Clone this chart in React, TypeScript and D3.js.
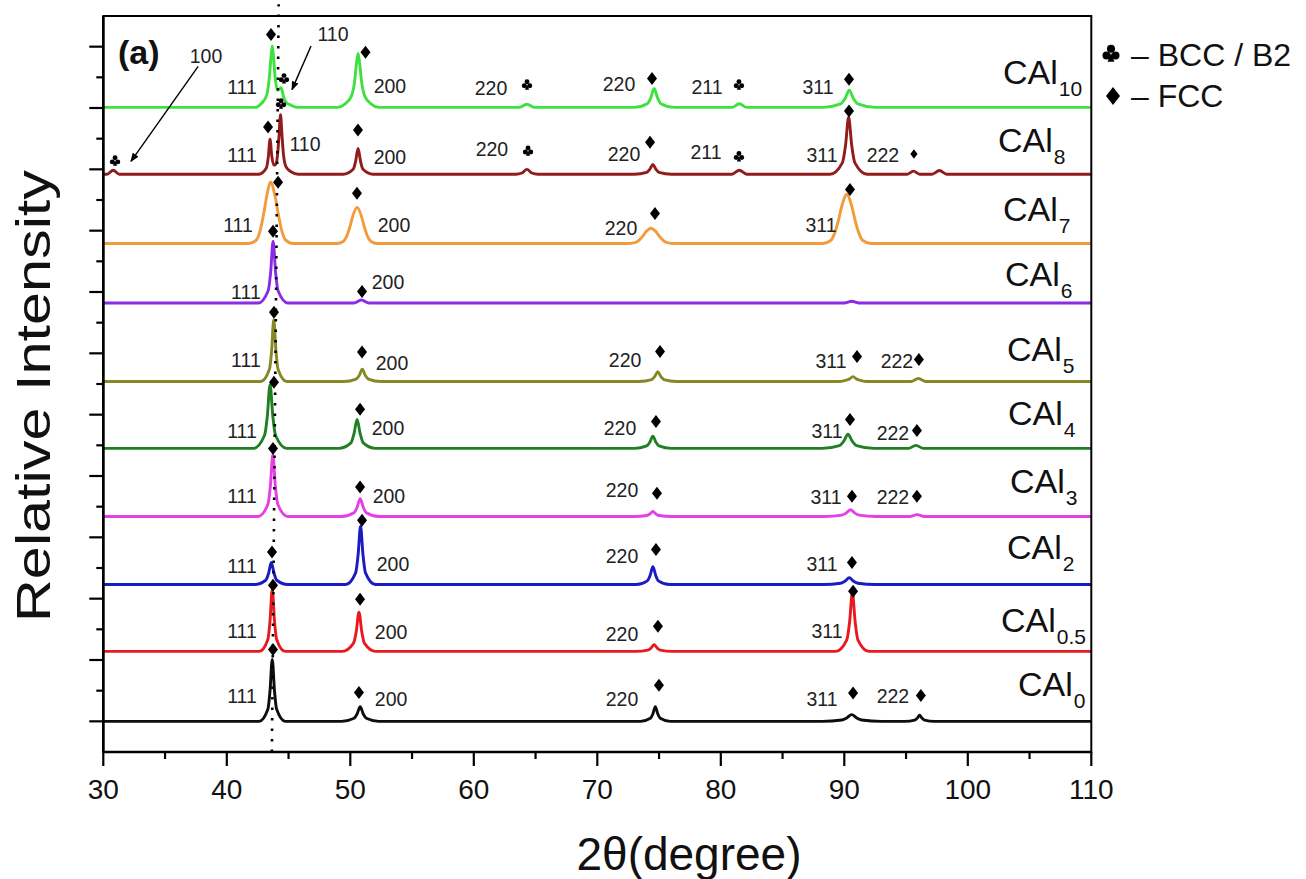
import React from "react";
import * as d3 from "d3";

// ---------- data ----------
const sampleSubs = ["0", "0.5", "2", "3", "4", "5", "6", "7", "8", "10"];
const sampleColors = ["#0d0d0d", "#e8191f", "#1b1bc4", "#e53fe5", "#1f7f22", "#878726", "#8b2be6", "#f29b3b", "#921b1b", "#3ee23e"];
const sampleOffsets = [0, 1.14, 2.23, 3.34, 4.45, 5.54, 6.82, 7.79, 8.92, 10.01];
// label anchor (2θ, intensity) for each sample name
const sampleLabelX = [104.07, 102.69, 103.17, 103.42, 103.25, 103.17, 103.01, 102.85, 102.44, 102.85];
const sampleLabelY = [0.41, 1.45, 2.64, 3.73, 4.83, 5.87, 7.09, 8.15, 9.28, 10.39];

type P = [number, number];
const patCAl0: P[] = [
  [30, 0],
  [42.63, 0], [43.33, 0.2], [43.5, 0.5], [43.68, 1.01], [43.86, 0.5], [44.03, 0.2], [44.73, 0],
  [49.3, 0], [50.3, 0.05], [50.55, 0.12], [50.8, 0.24], [51.05, 0.12], [51.3, 0.05], [52.3, 0],
  [73.5, 0], [74.3, 0.05], [74.5, 0.12], [74.7, 0.24], [74.9, 0.12], [75.1, 0.05], [75.9, 0],
  [88.2, 0], [89.8, 0.022], [90.2, 0.055], [90.6, 0.11], [91.0, 0.055], [91.4, 0.022], [93.0, 0],
  [94.9, 0], [95.7, 0.02], [95.9, 0.05], [96.1, 0.1], [96.3, 0.05], [96.5, 0.02], [97.3, 0],
  [110, 0],
];
const patCAl05: P[] = [
  [30, 0],
  [42.63, 0], [43.33, 0.2], [43.5, 0.5], [43.68, 1.01], [43.86, 0.5], [44.03, 0.2], [44.73, 0],
  [49.35, 0], [50.25, 0.13], [50.48, 0.32], [50.7, 0.64], [50.93, 0.32], [51.15, 0.13], [52.05, 0],
  [73.1, 0], [74.1, 0.022], [74.35, 0.055], [74.6, 0.11], [74.85, 0.055], [75.1, 0.022], [76.1, 0],
  [89.3, 0], [90.2, 0.19], [90.43, 0.48], [90.65, 0.96], [90.88, 0.48], [91.1, 0.19], [92.0, 0],
  [110, 0],
];
const patCAl2: P[] = [
  [30, 0],
  [42.25, 0], [43.15, 0.07], [43.38, 0.18], [43.6, 0.36], [43.83, 0.18], [44.05, 0.07], [44.95, 0],
  [49.63, 0], [50.43, 0.19], [50.63, 0.48], [50.83, 0.95], [51.03, 0.48], [51.23, 0.19], [52.03, 0],
  [73.15, 0], [74.05, 0.06], [74.28, 0.15], [74.5, 0.29], [74.73, 0.15], [74.95, 0.06], [75.85, 0],
  [88.3, 0], [89.7, 0.022], [90.05, 0.055], [90.4, 0.11], [90.75, 0.055], [91.1, 0.022], [92.5, 0],
  [110, 0],
];
const patCAl3: P[] = [
  [30, 0],
  [42.53, 0], [43.33, 0.2], [43.53, 0.5], [43.73, 1.01], [43.93, 0.5], [44.13, 0.2], [44.93, 0],
  [49.3, 0], [50.3, 0.06], [50.55, 0.15], [50.8, 0.29], [51.05, 0.15], [51.3, 0.06], [52.3, 0],
  [73.0, 0], [74.0, 0.016], [74.25, 0.04], [74.5, 0.08], [74.75, 0.04], [75.0, 0.016], [76.0, 0],
  [88.4, 0], [89.8, 0.022], [90.15, 0.055], [90.5, 0.11], [90.85, 0.055], [91.2, 0.022], [92.6, 0],
  [95.3, 0], [95.9, 0.03], [96.5, 0],
  [110, 0],
];
const patCAl4: P[] = [
  [30, 0],
  [42.15, 0], [43.05, 0.21], [43.28, 0.52], [43.5, 1.04], [43.73, 0.52], [43.95, 0.21], [44.85, 0],
  [49.05, 0], [50.05, 0.09], [50.3, 0.24], [50.55, 0.47], [50.8, 0.24], [51.05, 0.09], [52.05, 0],
  [73.0, 0], [74.0, 0.04], [74.25, 0.1], [74.5, 0.2], [74.75, 0.1], [75.0, 0.04], [76.0, 0],
  [88.2, 0], [89.6, 0.046], [89.95, 0.115], [90.3, 0.23], [90.65, 0.115], [91.0, 0.046], [92.4, 0],
  [95.2, 0], [95.8, 0.05], [96.4, 0],
  [110, 0],
];
const patCAl5: P[] = [
  [30, 0],
  [42.75, 0], [43.45, 0.2], [43.63, 0.5], [43.8, 1.01], [43.98, 0.5], [44.15, 0.2], [44.85, 0],
  [49.47, 0], [50.47, 0.04], [50.72, 0.1], [50.97, 0.2], [51.22, 0.1], [51.47, 0.04], [52.47, 0],
  [73.4, 0], [74.4, 0.03], [74.65, 0.08], [74.9, 0.16], [75.15, 0.08], [75.4, 0.03], [76.4, 0],
  [89.5, 0], [90.1, 0.02], [90.4, 0.04], [90.7, 0.08], [91.0, 0.04], [91.3, 0.02], [91.9, 0],
  [95.4, 0], [96.0, 0.05], [96.6, 0],
  [110, 0],
];
const patCAl6: P[] = [
  [30, 0],
  [42.55, 0], [43.35, 0.2], [43.55, 0.5], [43.75, 1.01], [43.95, 0.5], [44.15, 0.2], [44.95, 0],
  [50.3, 0], [50.9, 0.05], [51.5, 0],
  [90.0, 0], [90.6, 0.03], [91.2, 0],
  [110, 0],
];
const patCAl7: P[] = [
  [30, 0],
  [41.8, 0], [42.4, 0.06], [42.7, 0.21], [43.0, 0.5], [43.24, 0.78], [43.55, 1.0], [43.9, 0.78], [44.15, 0.5], [44.45, 0.21], [44.75, 0.06], [45.35, 0],
  [48.9, 0], [49.45, 0.037], [49.72, 0.124], [50.0, 0.295], [50.22, 0.46], [50.55, 0.59], [50.88, 0.46], [51.1, 0.295], [51.38, 0.124], [51.65, 0.037], [52.2, 0],
  [72.4, 0], [73.05, 0.016], [73.37, 0.053], [73.7, 0.125], [73.96, 0.195], [74.35, 0.25], [74.74, 0.195], [75.0, 0.125], [75.33, 0.053], [75.65, 0.016], [76.3, 0],
  [88.25, 0], [88.9, 0.05], [89.22, 0.17], [89.55, 0.4], [89.81, 0.62], [90.2, 0.8], [90.59, 0.62], [90.85, 0.4], [91.18, 0.17], [91.5, 0.05], [92.15, 0],
  [110, 0],
];
const patCAl8: P[] = [
  [30, 0], [30.3, 0], [30.8, 0.065], [31.3, 0],
  [42.6, 0], [43.2, 0.1], [43.36, 0.28], [43.5, 0.57], [43.64, 0.3], [43.8, 0.15], [43.95, 0.16], [44.1, 0.3], [44.22, 0.6], [44.35, 0.97], [44.48, 0.6], [44.6, 0.3], [44.8, 0.12], [45.2, 0.04], [45.8, 0],
  [49.43, 0], [50.23, 0.08], [50.43, 0.21], [50.63, 0.42], [50.83, 0.21], [51.03, 0.08], [51.83, 0],
  [63.4, 0], [63.9, 0.02], [64.3, 0.08], [64.7, 0.02], [65.2, 0],
  [73.0, 0], [74.0, 0.03], [74.25, 0.08], [74.5, 0.16], [74.75, 0.08], [75.0, 0.03], [76.0, 0],
  [80.9, 0], [81.5, 0.065], [82.1, 0],
  [88.85, 0], [89.85, 0.19], [90.1, 0.47], [90.35, 0.93], [90.6, 0.47], [90.85, 0.19], [91.85, 0],
  [95.1, 0], [95.6, 0.05], [96.1, 0],
  [97.1, 0], [97.7, 0.06], [98.3, 0],
  [110, 0],
];
const patCAl10: P[] = [
  [30, 0],
  [42.3, 0], [42.78, 0.06], [43.23, 0.2], [43.45, 0.5], [43.57, 0.8], [43.68, 1.0], [43.79, 0.8], [43.9, 0.52], [44.13, 0.28], [44.4, 0.32], [44.6, 0.17], [44.8, 0.085], [45.2, 0.035], [45.7, 0],
  [48.98, 0], [49.53, 0.05], [50.08, 0.18], [50.36, 0.44], [50.49, 0.7], [50.63, 0.88], [50.77, 0.7], [50.9, 0.44], [51.18, 0.18], [51.73, 0.05], [52.28, 0],
  [63.7, 0], [64.3, 0.05], [64.9, 0],
  [72.95, 0], [74.05, 0.06], [74.33, 0.155], [74.6, 0.31], [74.88, 0.155], [75.15, 0.06], [76.25, 0],
  [80.9, 0], [81.5, 0.06], [82.1, 0],
  [88.3, 0], [89.7, 0.056], [90.05, 0.14], [90.4, 0.28], [90.75, 0.14], [91.1, 0.056], [92.5, 0],
  [110, 0],
];
const patterns = [patCAl0, patCAl05, patCAl2, patCAl3, patCAl4, patCAl5, patCAl6, patCAl7, patCAl8, patCAl10];

// peak index labels (2θ, intensity, text)
const peakTexts: [number, number, string][] = [
  // CAl10
  [41.23, 10.34, "111"], [53.21, 10.36, "200"], [61.39, 10.32, "220"], [71.76, 10.39, "220"], [78.88, 10.35, "211"], [87.87, 10.35, "311"],
  [48.6, 11.2, "110"], [38.32, 10.84, "100"],
  // CAl8
  [41.23, 9.23, "111"], [46.33, 9.41, "110"], [53.21, 9.2, "200"], [61.47, 9.33, "220"], [72.16, 9.25, "220"], [78.8, 9.29, "211"], [88.19, 9.23, "311"], [93.13, 9.23, "222"],
  // CAl7
  [40.91, 8.09, "111"], [53.54, 8.1, "200"], [71.92, 8.05, "220"], [88.11, 8.1, "311"],
  // CAl6
  [41.55, 7.0, "111"], [53.05, 7.16, "200"],
  // CAl5
  [41.55, 5.89, "111"], [53.38, 5.84, "200"], [72.25, 5.89, "220"], [88.92, 5.87, "311"], [94.26, 5.87, "222"],
  // CAl4
  [41.23, 4.74, "111"], [53.05, 4.79, "200"], [71.84, 4.78, "220"], [88.6, 4.73, "311"], [93.94, 4.7, "222"],
  // CAl3
  [41.23, 3.67, "111"], [53.13, 3.67, "200"], [72.0, 3.77, "220"], [88.52, 3.65, "311"], [93.94, 3.65, "222"],
  // CAl2
  [41.23, 2.53, "111"], [53.46, 2.56, "200"], [72.0, 2.69, "220"], [88.19, 2.56, "311"],
  // CAl0.5
  [41.23, 1.48, "111"], [53.3, 1.45, "200"], [72.0, 1.43, "220"], [88.6, 1.48, "311"],
  // CAl0
  [41.23, 0.42, "111"], [53.3, 0.36, "200"], [72.0, 0.36, "220"], [88.19, 0.36, "311"], [93.94, 0.41, "222"],
];

// FCC markers (2θ, intensity)
const fccMarks: P[] = [
  [43.58, 11.2], [51.23, 10.91], [74.43, 10.48], [90.38, 10.47],
  [43.34, 9.69], [50.62, 9.64], [74.27, 9.44], [90.38, 9.95],
  [44.15, 8.79], [50.54, 8.61], [74.67, 8.28], [90.46, 8.67],
  [43.74, 7.99], [50.95, 7.01],
  [43.82, 6.67], [50.95, 6.02], [75.08, 6.03], [91.03, 5.95], [96.04, 5.9],
  [43.82, 5.53], [50.79, 5.09], [74.75, 4.89], [90.46, 4.92], [95.88, 4.74],
  [43.74, 4.45], [50.79, 3.82], [74.83, 3.72], [90.62, 3.67], [95.88, 3.67],
  [43.66, 2.76], [50.95, 3.28], [74.75, 2.8], [90.62, 2.59],
  [43.74, 2.22], [50.79, 1.99], [74.91, 1.55], [90.71, 2.12],
  [43.74, 1.17], [50.7, 0.47], [74.99, 0.59], [90.71, 0.46], [96.2, 0.42],
];
const fccSmallMarks: P[] = [[95.64, 9.25]];
// BCC / B2 markers
const bccMarks: P[] = [
  [44.63, 10.47], [64.31, 10.37], [81.47, 10.37],
  [44.39, 10.06], [30.95, 9.13], [64.39, 9.29], [81.47, 9.2],
];
// arrows: from (2θ, I) to (2θ, I)
const arrows: [number, number, number, number][] = [
  [46.82, 11.01, 45.28, 10.3],
  [37.68, 10.68, 32.24, 9.13],
];
// dotted guide line (2θ at bottom, 2θ at top)
const guideX = [43.65, 44.2];
const guideY = [-0.5, 11.69];

const xTickValues = [30, 40, 50, 60, 70, 80, 90, 100, 110];
const xMinorValues = [35, 45, 55, 65, 75, 85, 95, 105];
const yMajorValues = [0, 1, 2, 3, 4, 5, 6, 7, 8, 9, 10, 11];
const yMinorValues = [0.5, 1.5, 2.5, 3.5, 4.5, 5.5, 6.5, 7.5, 8.5, 9.5, 10.5];

// ---------- chart ----------
const FONT = "'Liberation Sans', Arial, sans-serif";

function Diamond({ cx, cy, w, h }: { cx: number; cy: number; w: number; h: number }) {
  return <path d={`M${cx},${cy - h}L${cx + w},${cy}L${cx},${cy + h}L${cx - w},${cy}Z`} fill="#000" />;
}
function Club({ cx, cy, s }: { cx: number; cy: number; s: number }) {
  const r = 2.6 * s;
  return (
    <g fill="#000">
      <circle cx={cx} cy={cy - 2.7 * s} r={r} />
      <circle cx={cx - 2.9 * s} cy={cy + 1.6 * s} r={r} />
      <circle cx={cx + 2.9 * s} cy={cy + 1.6 * s} r={r} />
      <path d={`M${cx},${cy}L${cx - 2.2 * s},${cy + 5.6 * s}L${cx + 2.2 * s},${cy + 5.6 * s}Z`} />
    </g>
  );
}

export default function App() {
  const W = 1306, H = 879;
  const x = d3.scaleLinear().domain([30, 110]).range([103.3, 1091.3]);
  const y = d3.scaleLinear().domain([-0.5, 11.5]).range([752, 16]);
  const [x0, x1] = x.range();
  const [yb, yt] = y.range();

  return (
    <svg width={W} height={H} style={{ position: "absolute", left: 0, top: 0, background: "#fff" }} fontFamily={FONT}>
      <defs>
        <clipPath id="plot">
          <rect x={x0} y={yt} width={x1 - x0} height={yb - yt} />
        </clipPath>
        <marker id="ah" viewBox="0 0 10 10" refX="9" refY="5" markerWidth="9" markerHeight="9" orient="auto" markerUnits="userSpaceOnUse">
          <path d="M0,1L10,5L0,9Z" fill="#000" />
        </marker>
      </defs>
      <rect x={0} y={0} width={W} height={H} fill="#fff" />

      {/* traces */}
      <g clipPath="url(#plot)">
        {patterns.map((pat, i) => {
          const off = sampleOffsets[i];
          const line = d3
            .line<P>()
            .x((d) => x(d[0]))
            .y((d) => y(d[1] + off))
            .curve(d3.curveMonotoneX);
          return <path key={i} d={line(pat) || ""} fill="none" stroke={sampleColors[i]} strokeWidth={2.9} strokeLinejoin="round" />;
        })}
      </g>

      {/* dotted guide */}
      <line
        x1={x(guideX[0])} y1={y(guideY[0])} x2={x(guideX[1])} y2={y(guideY[1])}
        stroke="#000" strokeWidth={2.6} strokeDasharray="2.5 8" />

      {/* frame */}
      <rect x={x0} y={yt} width={x1 - x0} height={yb - yt} fill="none" stroke="#000" strokeWidth={2} />
      <line x1={x0} y1={yt} x2={x0} y2={yb} stroke="#000" strokeWidth={2.6} />
      <line x1={x0} y1={yb} x2={x1} y2={yb} stroke="#000" strokeWidth={2.6} />

      {/* y ticks */}
      {yMajorValues.map((v) => (
        <line key={"ym" + v} x1={x0 - 14} x2={x0} y1={y(v)} y2={y(v)} stroke="#000" strokeWidth={2.2} />
      ))}
      {yMinorValues.map((v) => (
        <line key={"yn" + v} x1={x0 - 7} x2={x0} y1={y(v)} y2={y(v)} stroke="#000" strokeWidth={2.2} />
      ))}
      {/* x ticks */}
      {xTickValues.map((v) => (
        <g key={"xt" + v}>
          <line x1={x(v)} x2={x(v)} y1={yb} y2={yb + 14} stroke="#000" strokeWidth={2.2} />
          <text x={x(v)} y={yb + 47} fontSize={28} textAnchor="middle" fill="#111">{v}</text>
        </g>
      ))}
      {xMinorValues.map((v) => (
        <line key={"xn" + v} x1={x(v)} x2={x(v)} y1={yb} y2={yb + 7} stroke="#000" strokeWidth={2.2} />
      ))}

      {/* axis titles */}
      <text x={689} y={870} fontSize={46} textAnchor="middle" fill="#111">2θ(degree)</text>
      <text
        transform={`translate(50,${396}) rotate(-90)`}
        fontSize={48}
        textAnchor="middle"
        fill="#111"
        textLength={452}
        lengthAdjust="spacingAndGlyphs"
      >
        Relative Intensity
      </text>

      {/* panel label */}
      <text x={x(31.19)} y={y(10.71)} fontSize={34} fontWeight="bold" fill="#111">(a)</text>

      {/* peak labels */}
      {peakTexts.map(([px, py, t], i) => (
        <text key={"pt" + i} x={x(px)} y={y(py)} fontSize={19.5} textAnchor="middle" dominantBaseline="central" fill="#222">
          {t}
        </text>
      ))}
      {fccMarks.map(([px, py], i) => (
        <Diamond key={"fd" + i} cx={x(px)} cy={y(py)} w={5} h={6.5} />
      ))}
      {fccSmallMarks.map(([px, py], i) => (
        <Diamond key={"fs" + i} cx={x(px)} cy={y(py)} w={3.6} h={4.8} />
      ))}
      {bccMarks.map(([px, py], i) => (
        <Club key={"bc" + i} cx={x(px)} cy={y(py) - 1} s={0.95} />
      ))}
      {arrows.map(([ax, ay, bx, by], i) => (
        <line key={"ar" + i} x1={x(ax)} y1={y(ay)} x2={x(bx)} y2={y(by)} stroke="#000" strokeWidth={1.4} markerEnd="url(#ah)" />
      ))}

      {/* sample names */}
      {sampleSubs.map((s, i) => (
        <text key={"sn" + i} x={x(sampleLabelX[i])} y={y(sampleLabelY[i])} fontSize={34} fill="#111">
          CAl
          <tspan fontSize={21} dy={12} dx={1}>{s}</tspan>
        </text>
      ))}

      {/* legend */}
      <Club cx={1111} cy={53} s={1.55} />
      <text x={1131} y={66} fontSize={32} fill="#111">– BCC / B2</text>
      <Diamond cx={1113} cy={96} w={7} h={9} />
      <text x={1131} y={107} fontSize={32} fill="#111">– FCC</text>
    </svg>
  );
}
